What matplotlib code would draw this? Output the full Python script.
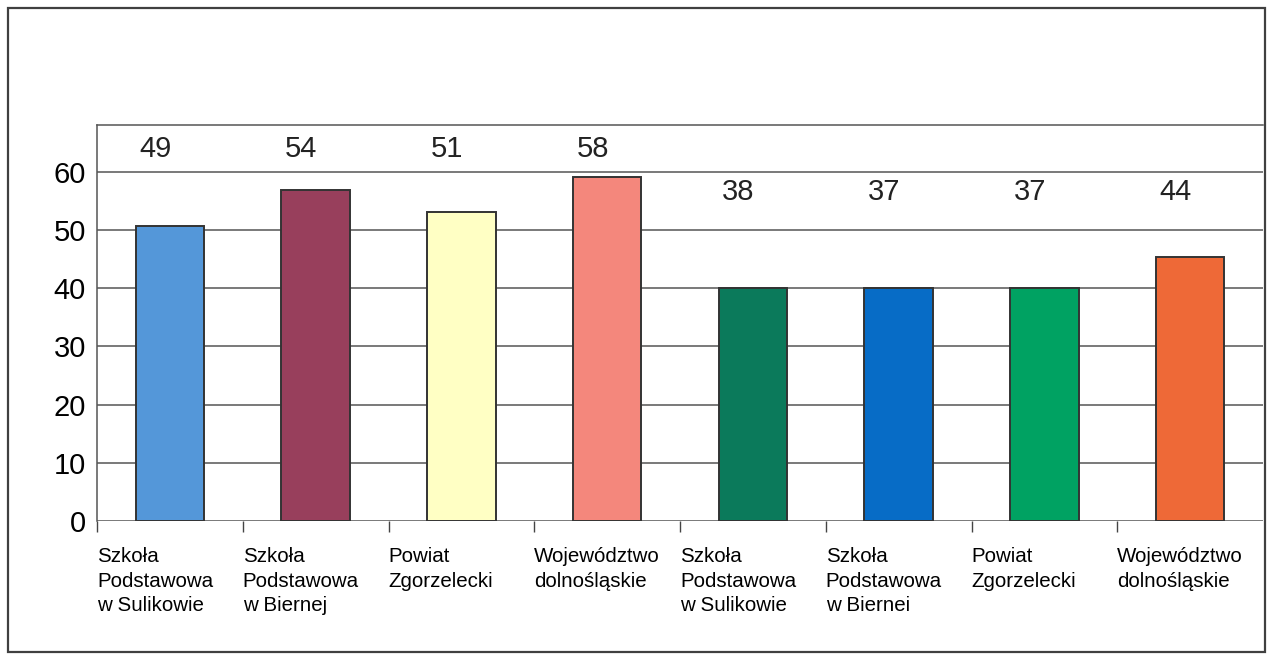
import matplotlib
matplotlib.use("Agg")
import matplotlib.pyplot as plt
from matplotlib.patches import Rectangle
import numpy as np

plt.rcParams['font.family'] = ['Liberation Sans', 'DejaVu Sans']

categories = [
    "Szkoła\nPodstawowa\nw Sulikowie",
    "Szkoła\nPodstawowa\nw Biernej",
    "Powiat\nZgorzelecki",
    "Województwo\ndolnośląskie",
    "Szkoła\nPodstawowa\nw Sulikowie",
    "Szkoła\nPodstawowa\nw Biernei",
    "Powiat\nZgorzelecki",
    "Województwo\ndolnośląskie",
]
bar_heights = [50.6, 56.8, 53.0, 59.0, 40.0, 40.0, 40.0, 45.3]
value_labels = ["49", "54", "51", "58", "38", "37", "37", "44"]
colors = ["#5497D9", "#983F5C", "#FFFFC4", "#F4877C",
          "#0B7A5B", "#076CC6", "#00A262", "#EE6937"]
yticks = [0, 10, 20, 30, 40, 50, 60]

fig = plt.figure(figsize=(12.71, 6.58), dpi=100)
fig.patch.set_facecolor("white")

# outer frame
fig.patches.append(Rectangle((8 / 1271, 1 - 652 / 658), (1265 - 8) / 1271, (652 - 8) / 658,
                             transform=fig.transFigure, fill=False,
                             edgecolor="#404040", linewidth=1.6))

ax = fig.add_axes([97 / 1271, 1 - 521 / 658, (1263 - 97) / 1271, (521 - 125) / 658])
x = np.arange(len(categories))
ax.bar(x, bar_heights, width=0.47, color=colors, edgecolor="#333333",
       linewidth=1.4, zorder=3)

ax.set_xlim(-0.5, len(categories) - 0.5)
ax.set_ylim(0, 68)
ax.set_yticks(yticks)
ax.set_yticklabels([str(v) for v in yticks], fontsize=21)
ax.tick_params(axis='y', length=0, pad=8)
ax.yaxis.grid(True, color="#555555", linewidth=1.1, zorder=0)
ax.set_axisbelow(True)

ax.set_xticks(x - 0.5)
ax.set_xticklabels(categories, fontsize=14.8, ha='left', linespacing=1.36)
ax.tick_params(axis='x', length=8, width=1.0, color="#444444", pad=11, direction='out')

for s in ["bottom", "right"]:
    ax.spines[s].set_visible(False)
for s in ["left", "top"]:
    ax.spines[s].set_color("#555555")
    ax.spines[s].set_linewidth(1.1)

for i, lab in enumerate(value_labels):
    ly = 63.8 if i < 4 else 56.5
    ax.text(i - 0.1, ly, lab, ha='center', va='center', fontsize=21, color="#222222")

fig.savefig("out.png", dpi=100)
